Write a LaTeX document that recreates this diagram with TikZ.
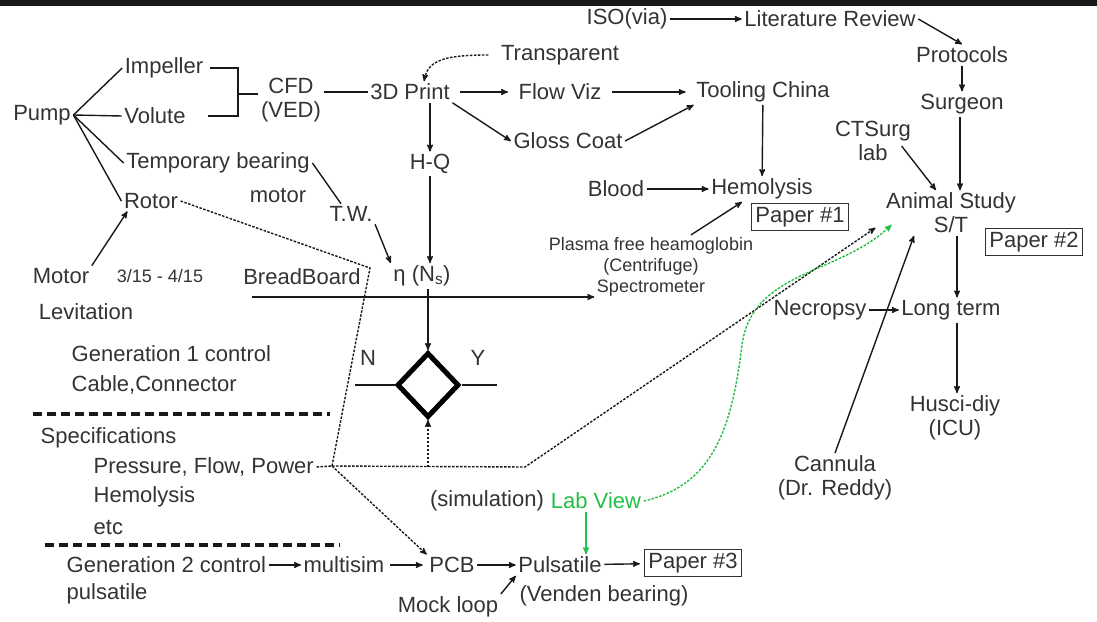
\documentclass[tikz,border=0pt]{standalone}
\usepackage{fontspec}
\setmainfont{Liberation Sans}
\usepackage{tikz}
\usetikzlibrary{arrows, positioning, shapes.geometric}
\definecolor{labgreen}{RGB}{34,190,70}
\tikzset{
->, % edges are directed unless said otherwise
>=stealth', % bold arrow heads
every node/.style={text=black!80, font=\fontsize{22}{24}\selectfont, inner sep=2pt}, % plain text labels
small/.style={font=\fontsize{18}{21}\selectfont}, % the smaller notes
paper/.style={draw=black!80, line width=1pt, inner sep=4pt}, % boxed papers
dots/.style={dash pattern=on 2.5pt off 1.5pt, line width=1.4pt}, % loose links
labdots/.style={dots, draw=labgreen},
gap/.style={shorten <=8pt, shorten >=8pt}, % a little air round the text
sep/.style={-, line width=4pt, dash pattern=on 9pt off 5pt}, % section rule
}

\begin{document}
\begin{tikzpicture}[x=1pt, y=-1pt, line width=1.4pt, draw=black!90]
    \useasboundingbox (0,0) rectangle (1097,621);
    \fill[-, black!90] (0,0) rectangle (1097,6);

    % pump and parts
    \node (pump) at (42,115) {Pump};
    \node (impeller) at (164,68) {Impeller};
    \node (volute) at (155,116) {Volute};
    \node (tempbear) at (218,163) {Temporary bearing};
    \node (motorlbl) at (278,195) {motor};
    \node (rotor) at (151,201) {Rotor};
    \node (motor) at (61,276) {Motor};
    \node[small] (dates) at (160,276) {3/15 - 4/15};
    \node (levitation) at (86,312) {Levitation};
    \node[anchor=west, align=left, font=\fontsize{22}{30}\selectfont] (gen1) at (69,370) {Generation 1 control\\Cable,Connector};
    \node[anchor=west] (specs) at (38,438) {Specifications};
    \node[anchor=west] (pfp) at (91,467) {Pressure, Flow, Power};
    \node[anchor=west] (hemolist) at (91,497) {Hemolysis};
    \node[anchor=west] (etc) at (91,527) {etc};
    \node[anchor=west] (gen2) at (64,565) {Generation 2 control};
    \node[anchor=west] (pulsatilelbl) at (64,594) {pulsatile};

    % design and test
    \node[align=center] (cfd) at (291,100) {CFD\\(VED)};
    \node (print) at (410,92) {3D Print};
    \node (transp) at (560,55) {Transparent};
    \node (flowviz) at (560,92) {Flow Viz};
    \node (gloss) at (568,141) {Gloss Coat};
    \node (tooling) at (763,92) {Tooling China};
    \node (hq) at (430,164) {H-Q};
    \node (tw) at (351,214) {T.W.};
    \node (eta) at (422,276) {η (N\textsubscript{s})};
    \node (breadboard) at (302,277) {BreadBoard};
    \node[diamond, draw=black, line width=5pt, minimum width=62pt, minimum height=65pt, inner sep=0pt] (dec) at (428,385) {};
    \node (no) at (368,358) {N};
    \node (yes) at (478,358) {Y};
    \node (blood) at (616,189) {Blood};
    \node (hemo) at (762,189) {Hemolysis};
    \node[paper] (paper1) at (800,217) {Paper \#1};
    \node[small] (plasma) at (651,246) {Plasma free heamoglobin};
    \node[small] (centrifuge) at (651,267) {(Centrifuge)};
    \node[small] (spectro) at (651,288) {Spectrometer};

    % control
    \node (multisim) at (344,565) {multisim};
    \node (pcb) at (452,565) {PCB};
    \node (pulsatile) at (560,565) {Pulsatile};
    \node[paper] (paper3) at (693,563) {Paper \#3};
    \node (mockloop) at (448,607) {Mock loop};
    \node (venden) at (604,596) {(Venden bearing)};
    \node (simulation) at (487,501) {(simulation)};
    \node[text=labgreen] (labview) at (596,501) {Lab View};

    % animal study
    \node (iso) at (627,19) {ISO(via)};
    \node (litrev) at (830,19) {Literature Review};
    \node (protocols) at (962,55) {Protocols};
    \node (surgeon) at (962,104) {Surgeon};
    \node[align=center] (ctsurg) at (873,141) {CTSurg\\lab};
    \node[align=center] (animal) at (951,213) {Animal Study\\S/T};
    \node[paper] (paper2) at (1034,242) {Paper \#2};
    \node (necropsy) at (820,310) {Necropsy};
    \node (longterm) at (951,310) {Long term};
    \node[align=center] (husci) at (955,418) {Husci-diy\\(ICU)};
    \node[align=center] (cannula) at (835,478) {Cannula\\(Dr. Reddy)};

    \coordinate (brk) at (238,94);
    \coordinate (kink) at (370,268);
    \coordinate (junc) at (332,466);
    \coordinate (bend) at (525,467);
    \coordinate (bbline) at (252,297);

    \path[-]
    (pump.east) edge (impeller.west)
    (pump.east) edge (volute.west)
    (pump.east) edge (tempbear.west)
    (pump.east) edge (rotor.west);
    \draw[-] ([xshift=4pt]impeller.east) -| (brk) |- ([xshift=20pt]volute.east);
    \draw[-] (brk) -- (cfd.west |- brk);
    \draw[-] (print.west -| cfd.east) -- (print.west);
    \draw[dots, shorten <=10pt] (transp.west) .. controls (445,55) and (428,60) .. ([xshift=14pt]print.north);
    \path
    (print) edge[gap] (flowviz)
    (flowviz) edge[gap] (tooling)
    (print.south east) edge (gloss.west)
    (gloss.east) edge (tooling.south west);
    \draw (hq.north |- print.south) -- (hq.north);
    \draw (hq.south) -- (hq.south |- eta.north);
    \draw[-] (tempbear.east) -- ([xshift=-10pt]tw.north);
    \draw (tw.south east) -- (eta.north west);
    \draw (dec.north |- eta.south) -- (dec.north);
    \draw (bbline) -- (bbline -| spectro.west);
    \draw[-] ([xshift=-40pt]dec.west) -- (dec.west) (dec.east) -- ([xshift=35pt]dec.east);

    \draw[dots, -] (rotor.east) -- (kink) -- (junc);
    \draw[dots, -] (pfp.east) -- (junc);
    \draw[dots] (junc) -- (bend) -- ([xshift=-8pt,yshift=8pt]animal.south west);
    \draw[dots] (dec.south |- bend) -- (dec.south);
    \draw[dots] (junc) -- (pcb.north west);
    \draw[labdots] (labview.east) .. controls (715,485) and (732,425) .. (742,345) .. controls (752,270) and (840,275) .. ([xshift=8pt,yshift=11pt]animal.south west);
    \draw[labgreen] ([xshift=-10pt]labview.south) -- ([xshift=-10pt]labview.south |- pulsatile.north);

    \path
    (gen2) edge (multisim)
    (multisim) edge[shorten <=3pt, shorten >=4pt] (pcb)
    (pcb) edge (pulsatile)
    (pulsatile) edge[shorten >=4pt] (paper3);
    \draw (mockloop.north east) -- (pulsatile.south west);

    \path
    (blood) edge (hemo)
    (tooling) edge (hemo)
    ([xshift=40pt]plasma.north) edge ([xshift=-20pt]hemo.south);
    \path
    (iso) edge (litrev)
    (litrev.east) edge (protocols.north)
    (protocols) edge (surgeon)
    ([xshift=-2pt]surgeon.south) edge ([xshift=-2pt]surgeon.south |- animal.north);
    \draw ([xshift=-12pt,yshift=-5pt]ctsurg.east) -- ([xshift=-15pt]animal.north);
    \draw ([xshift=6pt]animal.south) -- ([xshift=6pt]animal.south |- longterm.north);
    \path (necropsy) edge (longterm);
    \draw ([xshift=2pt]husci.north |- longterm.south) -- ([xshift=2pt]husci.north);
    \draw (cannula.north) -- ([xshift=-37pt]animal.south);
    \draw (motor.north east) -- ([xshift=6pt]rotor.south west);

    \draw[sep] (33,414) -- (330,414);
    \draw[sep] (45,545) -- (340,545);
\end{tikzpicture}
\end{document}
